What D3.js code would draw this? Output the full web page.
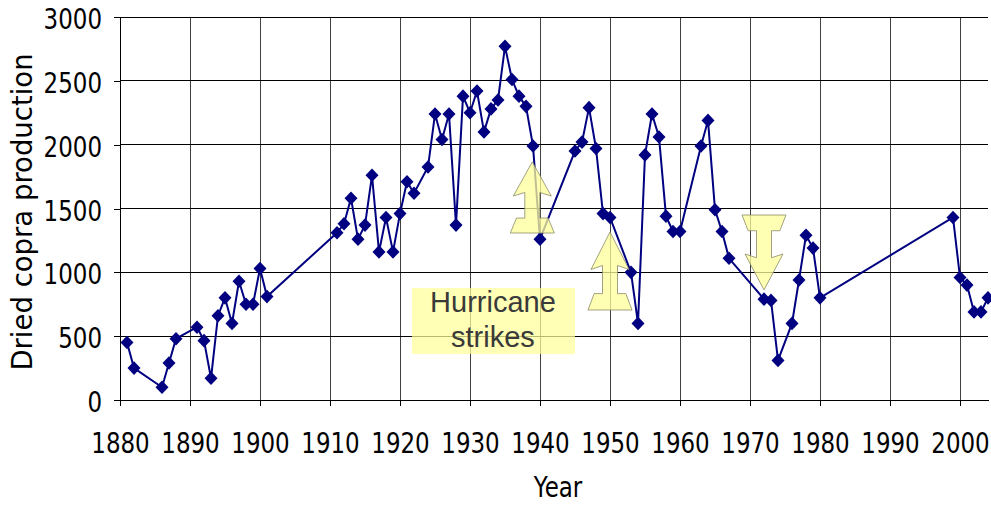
<!DOCTYPE html>
<html>
<head>
<meta charset="utf-8">
<script src="https://cdn.jsdelivr.net/npm/d3@7"></script>
<style>
  html, body { margin: 0; padding: 0; background: #fff; }
  svg { display: block; }
</style>
</head>
<body>
<svg id="chart" width="991" height="505"></svg>
<script>
// ---- data ----
const years = [1881,1882,1886,1887,1888,1891,1892,1893,1894,1895,1896,1897,1898,1899,1900,1901,
  1911,1912,1913,1914,1915,1916,1917,1918,1919,1920,1921,1922,1924,1925,1926,1927,1928,1929,1930,
  1931,1932,1933,1934,1935,1936,1937,1938,1939,1940,1945,1946,1947,1948,1949,1950,1953,1954,1955,
  1956,1957,1958,1959,1960,1963,1964,1965,1966,1967,1972,1973,1974,1976,1977,1978,1979,1980,
  1999,2000,2001,2002,2003,2004];
const production = [450,250,100,290,480,570,465,170,660,800,600,930,750,750,1030,810,
  1310,1380,1580,1260,1370,1760,1160,1430,1160,1460,1710,1620,1825,2240,2040,2240,1370,2380,2250,
  2420,2100,2280,2350,2770,2510,2380,2300,1990,1260,1950,2020,2290,1970,1460,1430,1000,600,1920,
  2240,2060,1440,1320,1320,1990,2190,1490,1320,1110,790,780,310,600,940,1290,1190,800,
  1430,960,900,690,690,800];
const xTicks = [1880,1890,1900,1910,1920,1930,1940,1950,1960,1970,1980,1990,2000];
const yTicks = [0,500,1000,1500,2000,2500,3000];
const annotationText = ["Hurricane", "strikes"];
// hurricane arrows: [year, value at top, value at bottom, direction]
const arrowYears = [1938.9, 1950, 1972];
const arrowTop = [1865, 1316, 1449];
const arrowBottom = [1308, 705, 862];
const arrowDir = ["up", "up", "down"];
// annotation box extents
const boxYears = [1921.7, 1945];
const boxValues = [360, 877];

// ---- layout ----
const svg = d3.select("#chart");
const x = d3.scaleLinear().domain([1880, 2004]).range([120, 988]);
const y = d3.scaleLinear().domain([0, 3000]).range([400, 17]);
const SQ = 0.82; // horizontal squeeze of axis text
const FS = 28;

// gridlines
const grid = svg.append("g");
grid.selectAll("line.h").data(yTicks.filter(d => d > 0)).enter().append("line")
  .attr("x1", x(1880)).attr("x2", x(2004))
  .attr("y1", d => y(d)).attr("y2", d => y(d))
  .attr("stroke", "#000").attr("stroke-width", 1).attr("shape-rendering", "crispEdges");
grid.selectAll("line.v").data(xTicks.filter(d => d > 1880)).enter().append("line")
  .attr("x1", d => x(d)).attr("x2", d => x(d))
  .attr("y1", y(0)).attr("y2", y(3000))
  .attr("stroke", "#000").attr("stroke-width", 1).attr("stroke-opacity", 0.75)
  .attr("shape-rendering", "crispEdges");

// axes
const xAxis = svg.append("g").attr("transform", `translate(0,${y(0)})`)
  .call(d3.axisBottom(x).tickValues(xTicks).tickFormat(d3.format("d")).tickSize(6).tickSizeOuter(0));
const yAxis = svg.append("g").attr("transform", `translate(${x(1880)},0)`)
  .call(d3.axisLeft(y).tickValues(yTicks).tickFormat(d3.format("d")).tickSize(6).tickSizeOuter(0));
[xAxis, yAxis].forEach(a => {
  a.select(".domain").attr("stroke", "#000").attr("shape-rendering", "crispEdges");
  a.selectAll(".tick line").attr("stroke", "#000").attr("shape-rendering", "crispEdges");
  a.selectAll("text").attr("font-family", "'DejaVu Sans', Verdana, sans-serif")
    .attr("font-size", FS).attr("fill", "#000");
});
xAxis.selectAll("text").attr("y", 0).attr("dy", 0)
  .attr("transform", `translate(0,53) scale(${SQ},1)`);
yAxis.selectAll("text").attr("x", 0).attr("dy", 0)
  .attr("transform", `translate(-18,11.5) scale(${SQ},1)`);

// axis titles
svg.append("text").attr("transform", `translate(558,497) scale(${SQ},1)`)
  .attr("text-anchor", "middle").attr("font-family", "'DejaVu Sans', Verdana, sans-serif")
  .attr("font-size", FS).text("Year");
svg.append("text").attr("transform", "translate(32,212) rotate(-90)")
  .attr("text-anchor", "middle").attr("font-family", "'DejaVu Sans', Verdana, sans-serif")
  .attr("font-size", 27.5).text("Dried copra production");

// data line
const pts = years.map((yr, i) => [yr, production[i]]);
svg.append("path").datum(pts)
  .attr("d", d3.line().x(d => x(d[0])).y(d => y(d[1])))
  .attr("fill", "none").attr("stroke", "#000080").attr("stroke-width", 2);
const hw = 6.5, hh = 6.8;
svg.append("g").selectAll("path").data(pts).enter().append("path")
  .attr("d", d => {
    const cx = x(d[0]), cy = y(d[1]);
    return `M${cx},${cy - hh}L${cx + hw},${cy}L${cx},${cy + hh}L${cx - hw},${cy}Z`;
  })
  .attr("fill", "#000080");

// annotation box
const bx0 = x(boxYears[0]), bx1 = x(boxYears[1]), by0 = y(boxValues[1]), by1 = y(boxValues[0]);
svg.append("rect").attr("x", bx0).attr("y", by0).attr("width", bx1 - bx0).attr("height", by1 - by0)
  .attr("fill", "#ffff99").attr("fill-opacity", 0.72);
svg.append("g").selectAll("text").data(annotationText).enter().append("text")
  .attr("x", (bx0 + bx1) / 2 - 0.5).attr("y", (d, i) => by0 + 24 + i * 35)
  .attr("text-anchor", "middle").attr("font-family", "'Liberation Sans', Arial, sans-serif")
  .attr("font-size", 29).attr("fill", "#3a3a3a").text(d => d);

// arrows
function arrowPath(cx, t, b, dir) {
  const h = b - t, hwid = 19, sw = 7.5, fw = 22;
  const shape = [
    [0, 0], [hwid, 0.48 * h], [sw, 0.43 * h], [sw, 0.79 * h], [fw * 0.72, 0.79 * h],
    [fw, h], [-fw, h], [-fw * 0.72, 0.79 * h], [-sw, 0.79 * h], [-sw, 0.43 * h], [-hwid, 0.48 * h]
  ];
  const p = shape.map(([dx, dy]) => [cx + dx, dir === "up" ? t + dy : b - dy]);
  return "M" + p.map(q => q.join(",")).join("L") + "Z";
}
svg.append("g").selectAll("path").data(arrowYears).enter().append("path")
  .attr("d", (d, i) => arrowPath(x(d), y(arrowTop[i]), y(arrowBottom[i]), arrowDir[i]))
  .attr("fill", "#ffff99").attr("fill-opacity", 0.75)
  .attr("stroke", "#8a8a6a").attr("stroke-width", 0.8);
</script>
</body>
</html>
